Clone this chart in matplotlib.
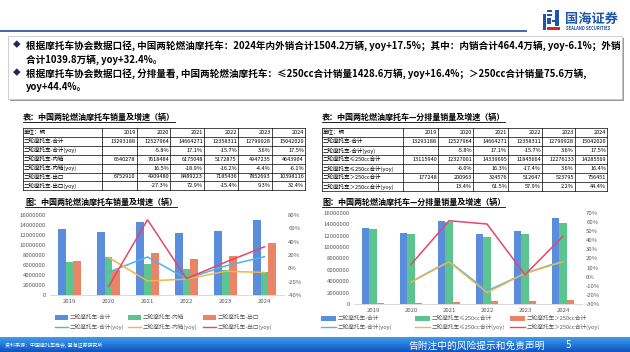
import matplotlib
matplotlib.use('Agg')
import matplotlib.pyplot as plt
import numpy as np
from matplotlib.patches import Rectangle
from matplotlib.lines import Line2D
from matplotlib.ticker import FuncFormatter

plt.rcParams['font.family'] = ['Noto Sans CJK SC', 'DejaVu Sans']

# ---------------- data ----------------
years = ['2019', '2020', '2021', '2022', '2023', '2024']
total = [13293188, 12527964, 14664271, 12358311, 12799928, 15042020]
domestic = [6540278, 7618484, 6175048, 5172875, 4947235, 4643904]
export = [6752910, 4909480, 8489223, 7185436, 7852693, 10398116]
total_yoy = [np.nan, -5.8, 17.1, -15.7, 3.6, 17.5]
domestic_yoy = [np.nan, 16.5, -18.9, -16.2, -4.4, -6.1]
export_yoy = [np.nan, -27.3, 72.9, -15.4, 9.3, 32.4]
le250 = [13115940, 12327001, 14339695, 11845664, 12276133, 14285569]
gt250 = [177248, 200963, 324576, 512647, 523795, 756451]
le250_yoy = [np.nan, -6.0, 16.3, -17.4, 3.6, 16.4]
gt250_yoy = [np.nan, 13.4, 61.5, 57.9, 2.2, 44.4]

left_labels = ['二轮摩托车-合计', '二轮摩托车-内销', '二轮摩托车-出口']
right_labels = ['二轮摩托车-合计', '二轮摩托车≤250cc合计', '二轮摩托车＞250cc合计']

bullet_lines = [
    '根据摩托车协会数据口径, 中国两轮燃油摩托车：2024年内外销合计1504.2万辆, yoy+17.5%；其中：内销合计464.4万辆, yoy-6.1%；外销',
    '合计1039.8万辆, yoy+32.4%。',
    '根据摩托车协会数据口径, 分排量看, 中国两轮燃油摩托车：≤250cc合计销量1428.6万辆, yoy+16.4%；＞250cc合计销量75.6万辆,',
    'yoy+44.4%。',
]

C_BLUE = '#5A8EDD'
C_GREEN = '#5BC48F'
C_ORANGE = '#EB8466'
L_BLUE = '#4DB3EC'
L_ORANGE = '#F4B448'
L_RED = '#E4466C'
GRAY = '#595959'

W, H = 630, 352
fig = plt.figure(figsize=(6.3, 3.52), dpi=100)
fig.patch.set_facecolor('white')
ov = fig.add_axes([0, 0, 1, 1])
ov.axis('off')


def rect(x0, y0, x1, y1):
    return [x0 / W, 1 - y1 / H, (x1 - x0) / W, (y1 - y0) / H]


# ---------------- footer gradient ----------------
grad = np.linspace(0, 1, 64).reshape(-1, 1)
top = np.array([0x3C, 0x9E, 0xEE]) / 255
bot = np.array([0x0E, 0x52, 0xC2]) / 255
img = (top[None, None, :] * (1 - grad[..., None]) + bot[None, None, :] * grad[..., None])
img = np.repeat(img, 4, axis=1)
ov.imshow(img, extent=[0, W, 352, 337], aspect='auto', origin='upper', zorder=1)
ov.set_xlim(0, W)
ov.set_ylim(H, 0)

ov.text(5, 345, '资料来源：中国摩托车商会, 国海证券研究所', fontsize=3.6, color='white',
        va='center', ha='left', zorder=3)
ov.text(408, 345.5, '告附注中的风险提示和免责声明', fontsize=7, color='white',
        va='center', ha='left', zorder=3)
ov.text(566, 345.5, '5', fontsize=7, color='white', va='center', ha='left', zorder=3)

# ---------------- header ----------------
ov.plot([0, 527], [31, 31], color='#1E4F9E', lw=1.2, solid_capstyle='butt')
logo_blue = '#1F56A8'
for (x0, y0, x1, y1) in [(543, 14, 546, 30), (547, 10, 552, 12), (547, 14, 552, 16),
                         (547, 18, 551, 24), (555, 10, 559, 26), (552, 20, 555, 22)]:
    ov.add_patch(Rectangle((x0, y0), x1 - x0, y1 - y0, color=logo_blue, lw=0))
ov.add_patch(Rectangle((547, 27), 13, 3, color='#D9252A', lw=0))
ov.text(565, 19, '国海证券', fontsize=9.5, color=logo_blue, fontweight='bold',
        va='center', ha='left')
ov.text(566, 29, 'SEALAND SECURITIES', fontsize=3.0, color=logo_blue, fontweight='bold',
        va='center', ha='left')

# ---------------- bullet box ----------------
ov.add_patch(Rectangle((9.5, 37.5), 614, 63, facecolor='#9A9A9A', edgecolor='none', zorder=1))
ov.add_patch(Rectangle((8, 36), 614, 63, facecolor='white', edgecolor='#C8C8C8', lw=0.6, zorder=2))
ys = [45.5, 59.5, 73.5, 87.5]
for i, (s, y) in enumerate(zip(bullet_lines, ys)):
    if i in (0, 2):
        ov.text(13, y, '◆', fontsize=5.5, color='#1E2A55', va='center', ha='left', zorder=3)
    ov.text(26, y, s, fontsize=6.9, fontweight='bold', color='black', va='center',
            ha='left', zorder=3)

# ---------------- titles with underline ----------------
underline_texts = []


def title(x, y, s):
    t = ov.text(x, y, s, fontsize=5.8, fontweight='bold', color='black', va='center', ha='left')
    underline_texts.append(t)


title(23, 117.5, '表：中国两轮燃油摩托车销量及增速（辆）')
title(322, 117.5, '表：中国两轮燃油摩托车—分排量销量及增速（辆）')
title(25, 202.5, '图：中国两轮燃油摩托车销量及增速（辆）')
title(322, 202.5, '图：中国两轮燃油摩托车—分排量销量及增速（辆）')


# ---------------- tables ----------------
def fmt_pct(v):
    return '' if np.isnan(v) else f'{v:.1f}%'


def draw_table(edges, top, rowh, row_labels, rows):
    nrows = len(row_labels) + 1
    bottom = top + nrows * rowh
    for i in range(nrows + 1):
        ov.plot([edges[0], edges[-1]], [top + i * rowh] * 2, color='black', lw=0.5)
    for x in edges:
        ov.plot([x, x], [top, bottom], color='black', lw=0.5)
    yc = top + rowh / 2
    ov.text(edges[0] + 1, yc, '单位：辆', fontsize=4, va='center', ha='left')
    for j, yr in enumerate(years):
        ov.text(edges[j + 2] - 1, yc, yr, fontsize=4, va='center', ha='right')
    for i, (lab, vals) in enumerate(zip(row_labels, rows)):
        yc = top + (i + 1.5) * rowh
        ov.text(edges[0] + 1, yc, lab, fontsize=4, va='center', ha='left')
        for j, v in enumerate(vals):
            ov.text(edges[j + 2] - 1, yc, v, fontsize=4, va='center', ha='right')


l_row_labels = ['二轮摩托车-合计', '二轮摩托车-合计(yoy)', '二轮摩托车-内销',
                '二轮摩托车-内销(yoy)', '二轮摩托车-出口', '二轮摩托车-出口(yoy)']
l_rows = [[str(v) for v in total], [fmt_pct(v) for v in total_yoy],
          [str(v) for v in domestic], [fmt_pct(v) for v in domestic_yoy],
          [str(v) for v in export], [fmt_pct(v) for v in export_yoy]]
draw_table([22.7, 101.7, 136.7, 170, 204, 238, 271.7, 305], 128, 8.9, l_row_labels, l_rows)

r_row_labels = ['二轮摩托车-合计', '二轮摩托车-合计(yoy)', '二轮摩托车≤250cc合计',
                '二轮摩托车≤250cc合计(yoy)', '二轮摩托车＞250cc合计', '二轮摩托车＞250cc合计(yoy)']
r_rows = [[str(v) for v in total], [fmt_pct(v) for v in total_yoy],
          [str(v) for v in le250], [fmt_pct(v) for v in le250_yoy],
          [str(v) for v in gt250], [fmt_pct(v) for v in gt250_yoy]]
draw_table([322, 403, 438, 473, 508, 542, 575, 607], 128, 9.0, r_row_labels, r_rows)


# ---------------- charts ----------------
def combo(box, bar_series, line_series, ylim2, yticks2, bw):
    ax = fig.add_axes(rect(*box))
    x = np.arange(len(years))
    for k, (vals, c) in enumerate(bar_series):
        ax.bar(x + (k - 1) * bw, vals, width=bw, color=c, zorder=2)
    ax.set_xlim(-0.5, len(years) - 0.5)
    ax.set_ylim(0, 16000000)
    ax.set_yticks(np.arange(0, 16000001, 2000000))
    ax.yaxis.set_major_formatter(FuncFormatter(lambda v, p: f'{int(v)}'))
    ax.set_xticks(x)
    ax.set_xticklabels(years)
    for s in ['top', 'left', 'right']:
        ax.spines[s].set_visible(False)
    ax.spines['bottom'].set_color('#D9D9D9')
    ax.spines['bottom'].set_linewidth(0.7)
    ax.tick_params(axis='both', length=0, labelsize=4.3, colors=GRAY, pad=3)
    ax.set_facecolor('none')
    ax2 = ax.twinx()
    for vals, c in line_series:
        ax2.plot(x, vals, color=c, lw=1.1, solid_joinstyle='miter', zorder=3)
    ax2.set_ylim(*ylim2)
    ax2.set_yticks(yticks2)
    ax2.yaxis.set_major_formatter(FuncFormatter(lambda v, p: f'{int(round(v))}%'))
    for s in ['top', 'left', 'right', 'bottom']:
        ax2.spines[s].set_visible(False)
    ax2.tick_params(axis='both', length=0, labelsize=4.3, colors=GRAY, pad=3)
    return ax, ax2


combo((50, 215, 284, 295),
      [(total, C_BLUE), (domestic, C_GREEN), (export, C_ORANGE)],
      [(total_yoy, L_BLUE), (domestic_yoy, L_ORANGE), (export_yoy, L_RED)],
      (-40, 80), np.arange(-40, 81, 20), 0.19)

combo((354, 213, 582, 304),
      [(total, C_BLUE), (le250, C_GREEN), (gt250, C_ORANGE)],
      [(total_yoy, L_BLUE), (le250_yoy, L_ORANGE), (gt250_yoy, L_RED)],
      (-30, 70), np.arange(-30, 71, 10), 0.2)


# ---------------- legends (manual keys) ----------------
def legend(xs, y1, y2, labels, colors, lcolors, keyw):
    for x, lab, c, lc in zip(xs, labels, colors, lcolors):
        ov.add_patch(Rectangle((x, y1 - 2.5), keyw, 5, color=c, lw=0))
        ov.text(x + keyw + 1.5, y1, lab, fontsize=4.1, color=GRAY, va='center', ha='left')
        ov.plot([x, x + keyw], [y2, y2], color=lc, lw=1.0)
        ov.text(x + keyw + 1.5, y2, lab + '(yoy)', fontsize=4.1, color=GRAY, va='center', ha='left')


legend([55, 128, 203], 317, 327, left_labels, [C_BLUE, C_GREEN, C_ORANGE],
       [L_BLUE, L_ORANGE, L_RED], 13)
legend([321, 415, 510], 318, 327, right_labels, [C_BLUE, C_GREEN, C_ORANGE],
       [L_BLUE, L_ORANGE, L_RED], 15)

# underline titles
fig.canvas.draw()
r = fig.canvas.get_renderer()
inv = ov.transData.inverted()
for t in underline_texts:
    bb = t.get_window_extent(r)
    (xa, ya), (xb, yb) = inv.transform([[bb.x0, bb.y0], [bb.x1, bb.y1]])
    yl = max(ya, yb) - 0.3
    ov.plot([xa, xb], [yl, yl], color='black', lw=0.6)

ov.set_xlim(0, W)
ov.set_ylim(H, 0)
fig.savefig('out.png', dpi=100, facecolor='white')
